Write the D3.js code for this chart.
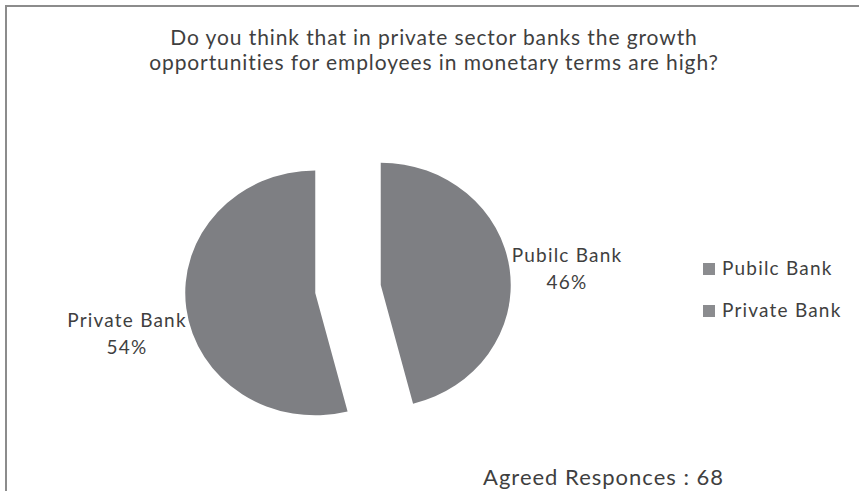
<!DOCTYPE html>
<html>
<head>
<meta charset="utf-8">
<script src="https://cdn.jsdelivr.net/npm/d3@7"></script>
<style>
  html, body { margin: 0; padding: 0; background: #fff; }
  svg { display: block; font-family: Lato, "Open Sans", sans-serif; }
</style>
</head>
<body>
<svg id="chart" width="859" height="491"></svg>
<script>
// Survey answers
const categories = ["Pubilc Bank", "Private Bank"];
const shares = [46, 54];
const titleLines = [
  "Do you think that in private sector banks the growth",
  "opportunities for employees in monetary terms are high?"
];
const footerText = "Agreed Responces : 68";

const svg = d3.select("#chart");
const textColor = "#3f3f3f";
const sliceColor = d3.scaleOrdinal().domain(categories).range(["#7e7f83", "#7e7f83"]);

// frame (left and top edges)
svg.append("line").attr("x1", 6).attr("y1", 6).attr("x2", 859).attr("y2", 6)
  .attr("stroke", "#8c8c8c").attr("stroke-width", 2);
svg.append("line").attr("x1", 6).attr("y1", 5).attr("x2", 6).attr("y2", 491)
  .attr("stroke", "#8c8c8c").attr("stroke-width", 2);

// title
svg.append("g").selectAll("text").data(titleLines).join("text")
  .attr("x", 434)
  .attr("y", (d, i) => 45 + i * 25)
  .attr("text-anchor", "middle")
  .attr("font-size", 21)
  .attr("letter-spacing", 0.9)
  .attr("fill", textColor)
  .text(d => d);

// pie
const data = categories.map((c, i) => ({ name: c, value: shares[i] }));
const pie = d3.pie().value(d => d.value).sort(null);
const radius = 130;
const explode = 33;
const arc = d3.arc().innerRadius(0).outerRadius(radius);
const arcs = pie(data);

const pieG = svg.append("g").attr("transform", "translate(348,289) scale(1,0.942)");
pieG.selectAll("path").data(arcs).join("path")
  .attr("transform", d => {
    const a = (d.startAngle + d.endAngle) / 2;
    return `translate(${explode * Math.sin(a)},${-explode * Math.cos(a)})`;
  })
  .attr("d", arc)
  .attr("fill", d => sliceColor(d.data.name));

// slice labels
const labelPos = [
  { x: 567, y: 262 },
  { x: 127, y: 327 }
];
const labels = svg.append("g").selectAll("text").data(arcs).join("text")
  .attr("text-anchor", "middle")
  .attr("font-size", 19)
  .attr("letter-spacing", 1.2)
  .attr("fill", textColor)
  .attr("transform", (d, i) => `translate(${labelPos[i].x},${labelPos[i].y})`);
labels.append("tspan").attr("x", 0).attr("y", 0).text(d => d.data.name);
labels.append("tspan").attr("x", 0).attr("y", 26.5).text(d => d.data.value + "%");

// legend
const legend = svg.append("g").attr("transform", "translate(703,263)")
  .selectAll("g").data(categories).join("g")
  .attr("transform", (d, i) => `translate(0,${i * 42})`);
legend.append("rect").attr("width", 12).attr("height", 12)
  .attr("fill", d => sliceColor(d)).attr("opacity", 0.9);
legend.append("text").attr("x", 19).attr("y", 12)
  .attr("font-size", 19).attr("letter-spacing", 1.2)
  .attr("fill", textColor).text(d => d);

// footer
svg.append("text").attr("x", 483).attr("y", 485)
  .attr("font-size", 22).attr("letter-spacing", 1.0)
  .attr("fill", textColor).text(footerText);
</script>
</body>
</html>
